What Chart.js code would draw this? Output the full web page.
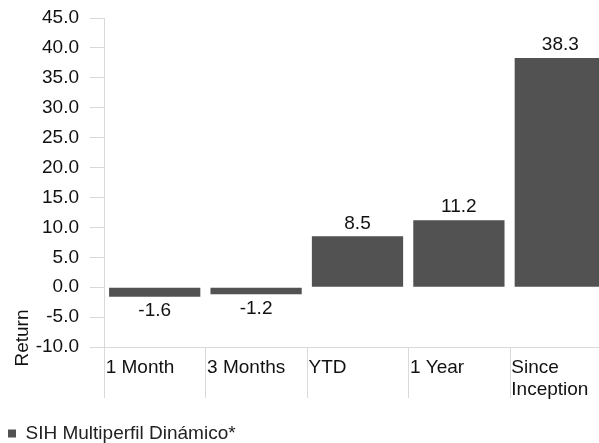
<!DOCTYPE html>
<html>
<head>
<meta charset="utf-8">
<script src="https://cdn.jsdelivr.net/npm/chart.js@4.4.1/dist/chart.umd.min.js"></script>
<style>
  html, body { margin: 0; padding: 0; background: #fff; overflow: hidden; }
  #wrap { width: 599px; height: 443px; overflow: hidden; }
  #chart { display: block; }
</style>
</head>
<body>
<div id="wrap"><canvas id="chart" width="615" height="453"></canvas></div>
<script>
// Periods and returns (%)
const periods = ["1 Month", "3 Months", "YTD", "1 Year", ["Since", "Inception"]];
const returns = [-1.6, -1.2, 8.5, 11.2, 38.3];
const seriesName = "SIH Multiperfil Dinámico*";
const axisTitle = "Return";
const yMin = -10;
const yMax = 45;
const yStep = 5;

const FONT = "'Liberation Sans', Arial, sans-serif";
const GRID = "#d9d9d9";
const BAR = "#525252";
const TEXT = "#111";

// Value labels: above positive bars, below negative ones
const valueLabels = {
  id: "valueLabels",
  afterDatasetsDraw(chart) {
    const ctx = chart.ctx;
    const meta = chart.getDatasetMeta(0);
    ctx.save();
    ctx.font = "19px " + FONT;
    ctx.fillStyle = TEXT;
    ctx.textAlign = "center";
    ctx.textBaseline = "middle";
    meta.data.forEach((bar, i) => {
      const v = returns[i];
      const y = v >= 0 ? bar.y - 13 : bar.y + 14;
      ctx.fillText(v.toFixed(1), bar.x, y);
    });
    ctx.restore();
  }
};

// Category separators hanging below the x axis, plus the rotated axis title
const axisExtras = {
  id: "axisExtras",
  afterDraw(chart) {
    const ctx = chart.ctx;
    const xs = chart.scales.x;
    const area = chart.chartArea;
    const half = (xs.getPixelForValue(1) - xs.getPixelForValue(0)) / 2;
    ctx.save();
    ctx.strokeStyle = GRID;
    ctx.lineWidth = 1;
    ctx.beginPath();
    for (let i = 0; i <= periods.length; i++) {
      const x = Math.round(xs.getPixelForValue(0) - half + i * half * 2) + 0.5;
      ctx.moveTo(x, area.bottom);
      ctx.lineTo(x, area.bottom + 51);
    }
    ctx.stroke();

    ctx.font = "19px " + FONT;
    ctx.fillStyle = TEXT;
    ctx.textAlign = "center";
    ctx.textBaseline = "middle";
    ctx.translate(chart.scales.y.left + 18, area.bottom - 9);
    ctx.rotate(-Math.PI / 2);
    ctx.fillText(axisTitle, 0, 0);
    ctx.restore();
  }
};

new Chart(document.getElementById("chart"), {
  type: "bar",
  data: {
    labels: periods,
    datasets: [{
      label: seriesName,
      data: returns,
      backgroundColor: BAR,
      borderWidth: 0,
      barPercentage: 0.9,
      categoryPercentage: 1.0
    }]
  },
  options: {
    responsive: false,
    animation: false,
    layout: { padding: { left: 5, right: 4, top: 18, bottom: 0 } },
    scales: {
      x: {
        grid: { display: false, drawTicks: false },
        border: { color: GRID, width: 1 },
        ticks: {
          font: { family: FONT, size: 19, lineHeight: 1.16 },
          color: TEXT,
          align: "start",
          labelOffset: -49,
          padding: 10,
          maxRotation: 0,
          autoSkip: false
        },
        afterFit(scale) {
          scale.height = 74;
          scale.paddingLeft = 0;
          scale.paddingRight = 0;
        }
      },
      y: {
        min: yMin,
        max: yMax,
        grid: { drawOnChartArea: false, drawTicks: true, tickLength: 14, color: GRID },
        border: { color: GRID, width: 1 },
        ticks: {
          stepSize: yStep,
          padding: 11,
          font: { family: FONT, size: 19 },
          color: TEXT,
          callback: (v) => Number(v).toFixed(1)
        },
        afterFit(scale) {
          scale.width = 99;
          scale.paddingTop = 0;
          scale.paddingBottom = 0;
        }
      }
    },
    plugins: {
      legend: {
        position: "bottom",
        align: "start",
        labels: {
          boxWidth: 8,
          boxHeight: 8,
          padding: 3,
          color: "#222",
          font: { family: FONT, size: 19 }
        }
      },
      tooltip: { enabled: false }
    }
  },
  plugins: [valueLabels, axisExtras]
});
</script>
</body>
</html>
